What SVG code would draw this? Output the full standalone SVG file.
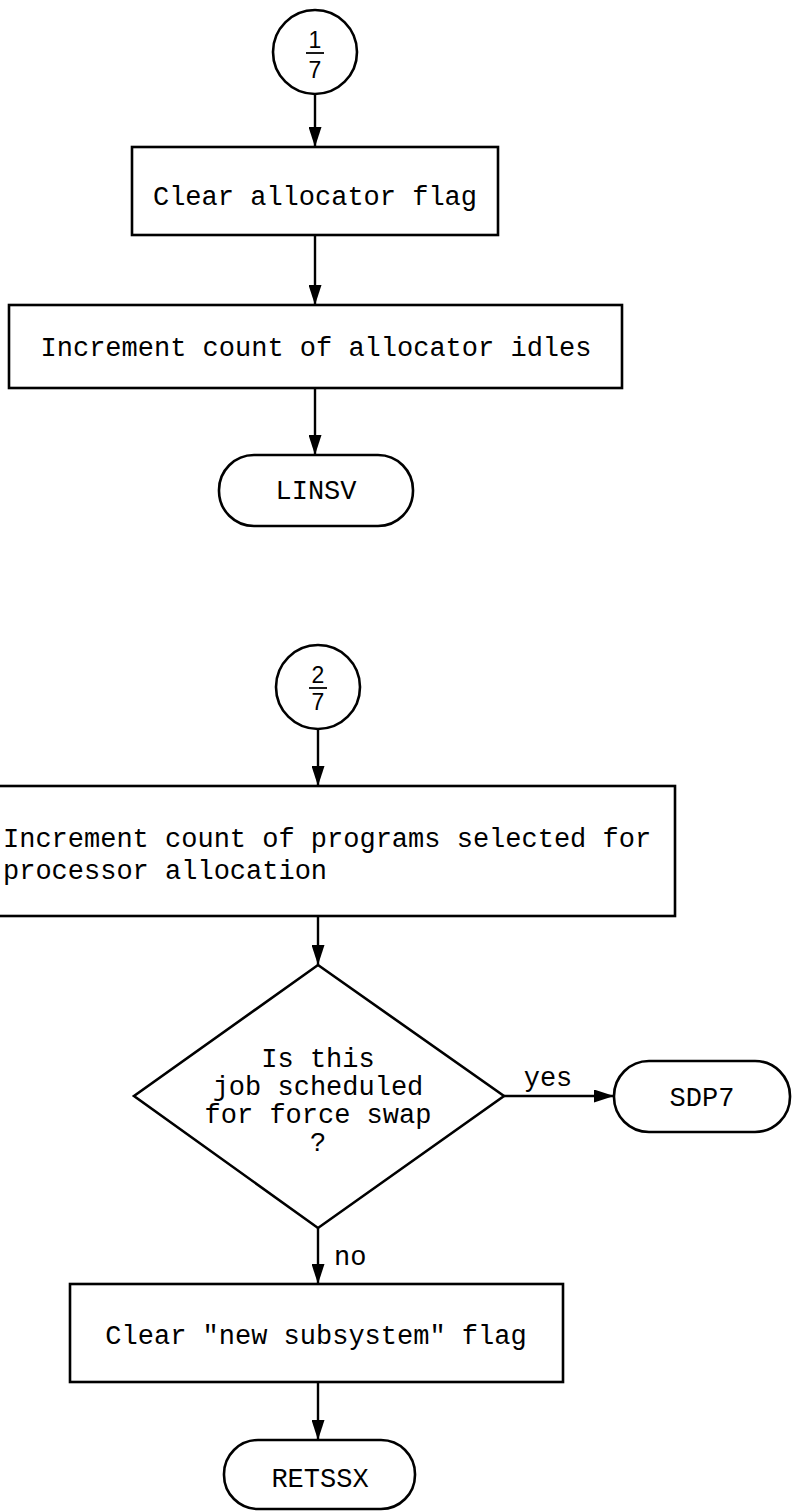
<svg xmlns="http://www.w3.org/2000/svg" width="799" height="1511" viewBox="0 0 799 1511">
  <style>
    .shape { fill: #fff; stroke: #000; stroke-width: 2.6; }
    .conn { fill: none; stroke: #000; stroke-width: 2.4; }
    .lbl { font-family: "Liberation Mono", "Courier New", monospace; font-size: 27px; fill: #000; text-anchor: middle; }
    .lbl-l { font-family: "Liberation Mono", "Courier New", monospace; font-size: 27px; fill: #000; }
    .frac { font-family: "Liberation Sans", Arial, sans-serif; font-size: 23px; fill: #000; text-anchor: middle; }
    .bar { stroke: #000; stroke-width: 1.8; }
  </style>
  <defs>
    <marker id="arrow" viewBox="0 0 20 13" refX="20" refY="6.5" markerWidth="20" markerHeight="13" markerUnits="userSpaceOnUse" orient="auto">
      <path d="M0,0 L20,6.5 L0,13 z" fill="#000"/>
    </marker>
  </defs>

  <rect x="0" y="0" width="799" height="1511" fill="#fff"/>

  <!-- connectors -->
  <g id="connectors">
    <line class="conn" x1="315" y1="93" x2="315" y2="147" marker-end="url(#arrow)"/>
    <line class="conn" x1="315" y1="235" x2="315" y2="305" marker-end="url(#arrow)"/>
    <line class="conn" x1="315" y1="388" x2="315" y2="455" marker-end="url(#arrow)"/>
    <line class="conn" x1="318" y1="729" x2="318" y2="786" marker-end="url(#arrow)"/>
    <line class="conn" x1="318" y1="916" x2="318" y2="965" marker-end="url(#arrow)"/>
    <line class="conn" x1="504" y1="1096" x2="614" y2="1096" marker-end="url(#arrow)"/>
    <line class="conn" x1="318" y1="1228" x2="318" y2="1284" marker-end="url(#arrow)"/>
    <line class="conn" x1="318" y1="1382" x2="318" y2="1440" marker-end="url(#arrow)"/>
    <text class="lbl" x="548" y="1086">yes</text>
    <text class="lbl-l" x="334" y="1265">no</text>
  </g>

  <!-- page 1/7 -->
  <g id="conn-1-7">
    <circle class="shape" cx="315" cy="52" r="42"/>
    <text class="frac" x="315" y="48">1</text>
    <line class="bar" x1="306" y1="53" x2="324" y2="53"/>
    <text class="frac" x="315" y="78">7</text>
  </g>

  <g id="clear-allocator-flag">
    <rect class="shape" x="132" y="147" width="366" height="88"/>
    <text class="lbl" x="315" y="205">Clear allocator flag</text>
  </g>

  <g id="increment-idles">
    <rect class="shape" x="9" y="305" width="613" height="83"/>
    <text class="lbl" x="316" y="356">Increment count of allocator idles</text>
  </g>

  <g id="linsv">
    <rect class="shape" x="219" y="455" width="194" height="71" rx="35" ry="35"/>
    <text class="lbl" x="316" y="499">LINSV</text>
  </g>

  <!-- page 2/7 -->
  <g id="conn-2-7">
    <circle class="shape" cx="318" cy="687" r="42"/>
    <text class="frac" x="318" y="683">2</text>
    <line class="bar" x1="309" y1="688" x2="327" y2="688"/>
    <text class="frac" x="318" y="710">7</text>
  </g>

  <g id="increment-programs">
    <rect class="shape" x="-40" y="786" width="715" height="130"/>
    <text class="lbl-l" x="3" y="847">Increment count of programs selected for</text>
    <text class="lbl-l" x="3" y="879">processor allocation</text>
  </g>

  <g id="force-swap-decision">
    <polygon class="shape" points="318,965 504,1096 318,1228 134,1096"/>
    <text class="lbl" x="318" y="1067">Is this</text>
    <text class="lbl" x="318" y="1095">job scheduled</text>
    <text class="lbl" x="318" y="1123">for force swap</text>
    <text class="lbl" x="318" y="1151">?</text>
  </g>

  <g id="sdp7">
    <rect class="shape" x="614" y="1061" width="176" height="71" rx="35" ry="35"/>
    <text class="lbl" x="702" y="1106">SDP7</text>
  </g>

  <g id="clear-new-subsystem">
    <rect class="shape" x="70" y="1284" width="493" height="98"/>
    <text class="lbl" x="316" y="1344">Clear "new subsystem" flag</text>
  </g>

  <g id="retssx">
    <rect class="shape" x="224" y="1440" width="191" height="69" rx="34" ry="34"/>
    <text class="lbl" x="320" y="1487">RETSSX</text>
  </g>
</svg>
